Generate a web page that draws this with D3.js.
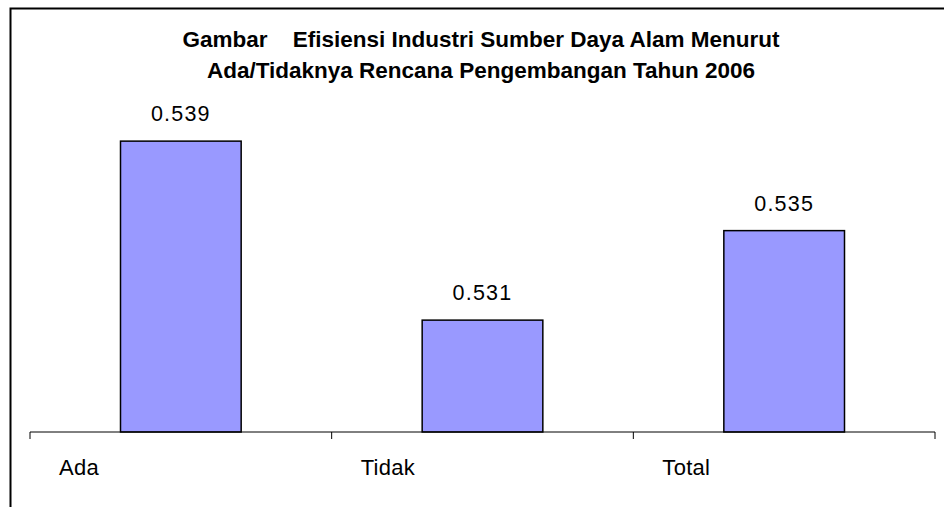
<!DOCTYPE html>
<html>
<head>
<meta charset="utf-8">
<script src="https://cdn.jsdelivr.net/npm/d3@7"></script>
<style>
  body { margin: 0; background: #fff; }
  svg { display: block; font-family: "Liberation Sans", Arial, sans-serif; }
</style>
</head>
<body>
<svg id="chart" width="944" height="507"></svg>
<script>
// data
const categories = ['Ada', 'Tidak', 'Total'];
const values = [0.539, 0.531, 0.535];
const titleLines = [
  'Gambar    Efisiensi Industri Sumber Daya Alam Menurut',
  'Ada/Tidaknya Rencana Pengembangan Tahun 2006'
];

const svg = d3.select('#chart');

// outer frame (runs off the right and bottom edge)
svg.append('rect')
  .attr('x', 10.5).attr('y', 8.5)
  .attr('width', 1000).attr('height', 600)
  .attr('fill', 'none')
  .attr('stroke', '#000')
  .attr('stroke-width', 2);

const margin = { left: 30, right: 9, top: 118.75, baseline: 432 };

const xScale = d3.scaleBand()
  .domain(categories)
  .range([margin.left, 944 - margin.right])
  .padding(0);

const yScale = d3.scaleLinear()
  .domain([0.526, 0.54])
  .range([margin.baseline, margin.top]);

// title
svg.append('g')
  .selectAll('text')
  .data(titleLines)
  .enter()
  .append('text')
  .attr('x', 481)
  .attr('y', (d, i) => 47 + i * 31)
  .attr('text-anchor', 'middle')
  .attr('font-size', '22.5px')
  .attr('font-weight', 'bold')
  .style('white-space', 'pre')
  .text(d => d);

// bars
const barW = xScale.bandwidth() * 0.4;
svg.append('g')
  .selectAll('rect')
  .data(values)
  .enter()
  .append('rect')
  .attr('x', (d, i) => xScale(categories[i]) + (xScale.bandwidth() - barW) / 2)
  .attr('y', d => yScale(d))
  .attr('width', barW)
  .attr('height', d => yScale(0.526) - yScale(d))
  .attr('fill', '#9999ff')
  .attr('stroke', '#000')
  .attr('stroke-width', 1.5);

// value labels
svg.append('g')
  .selectAll('text')
  .data(values)
  .enter()
  .append('text')
  .attr('x', (d, i) => xScale(categories[i]) + xScale.bandwidth() / 2)
  .attr('y', d => yScale(d) - 20)
  .attr('text-anchor', 'middle')
  .attr('font-size', '21.5px')
  .style('letter-spacing', '1.2px')
  .text(d => d.toFixed(3));

// x axis with ticks at category boundaries
const xAxis = svg.append('g')
  .attr('transform', `translate(0, ${margin.baseline})`);
xAxis.append('line')
  .attr('x1', xScale.range()[0]).attr('x2', xScale.range()[1])
  .attr('stroke', '#000');
xAxis.selectAll('line.tick')
  .data(categories.concat(['end']))
  .enter()
  .append('line')
  .attr('class', 'tick')
  .attr('x1', (d, i) => i < categories.length ? xScale(d) : xScale.range()[1])
  .attr('x2', (d, i) => i < categories.length ? xScale(d) : xScale.range()[1])
  .attr('y1', 0).attr('y2', 7)
  .attr('stroke', '#000');
xAxis.selectAll('text')
  .data(categories)
  .enter()
  .append('text')
  .attr('x', d => xScale(d) + 29)
  .attr('y', 43)
  .attr('font-size', '22px')
  .style('letter-spacing', '0.3px')
  .text(d => d);
</script>
</body>
</html>
